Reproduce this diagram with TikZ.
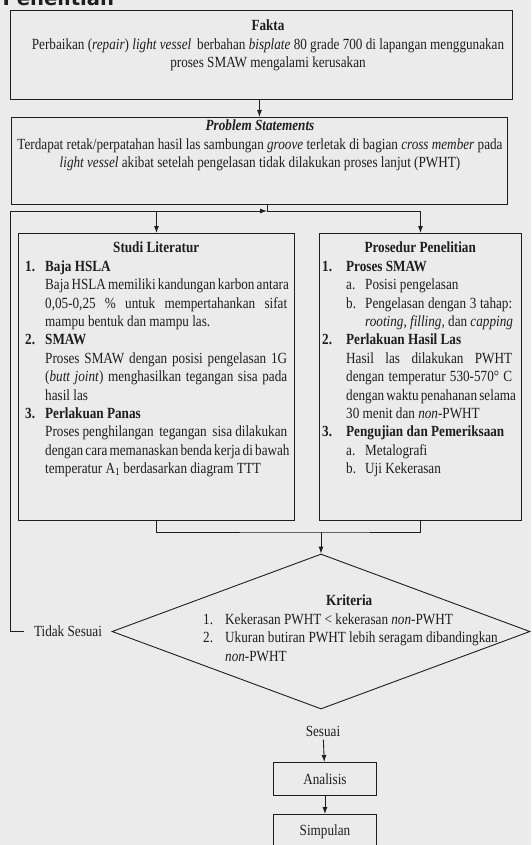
\documentclass[tikz,border=0pt]{standalone}
\usepackage{fontspec}
\setmainfont{Liberation Serif}[FakeStretch=0.85]
\newfontfamily\headfont{DejaVu Sans}
\usetikzlibrary{arrows.meta,positioning,shapes.geometric}
\definecolor{paper}{RGB}{235,235,235}
\definecolor{ink}{RGB}{30,30,30}
\newcommand{\numline}[3][20pt]{\makebox[#1][l]{\textbf{#2}}\textbf{#3}}
\newcommand{\jline}[2]{\makebox[#1][s]{#2}}

\begin{document}
\begin{tikzpicture}[x=1pt,y=-1pt,
    font=\fontsize{15.5}{18.4}\selectfont, color=ink,
    box/.style={draw=ink, line width=0.9pt, inner sep=0pt, anchor=north west},
    txt/.style={inner sep=0pt, align=left, anchor=north west},
    arr/.style={-{Latex[length=7pt,width=5pt]}, draw=ink, line width=0.9pt}]
    \fill[paper] (0,0) rectangle (531,845);
    \useasboundingbox (0,0) rectangle (531,845);

    \node[anchor=base west, font=\headfont\bfseries\fontsize{19.6}{22}\selectfont] (judul) at (-1,5.5) {Penelitian};

    \begin{scope}[every node/.style={box}]
        \node[minimum width=502pt, minimum height=89pt] (fakta) at (10,10) {};
        \node[minimum width=496pt, minimum height=87pt] (problem) at (11,117) {};
        \node[minimum width=276pt, minimum height=287pt] (studi) at (18,233) {};
        \node[minimum width=202pt, minimum height=287pt] (prosedur) at (319,233) {};
        \node[minimum width=103pt, minimum height=33pt] (analisis) at (273,762) {Analisis};
        \node[minimum width=103pt, minimum height=34pt] (simpulan) at (273,814) {Simpulan};
    \end{scope}
    \node[draw=ink, line width=0.9pt, diamond, inner sep=0pt,
        minimum width=418pt, minimum height=155pt] (kriteria) at (321,631.5) {};

    \node[txt, anchor=north, align=center] (faktatext) at (268,20) {\textbf{Fakta}\\
        Perbaikan (\textit{repair}) \textit{light vessel}\, berbahan \textit{bisplate} 80 grade 700 di lapangan menggunakan\\
        proses SMAW mengalami kerusakan};
    \node[txt, anchor=north, align=center] (problemtext) at (260,120) {\textbf{\textit{Problem Statements}}\\
        Terdapat retak/perpatahan hasil las sambungan \textit{groove} terletak di bagian \textit{cross member} pada\\
        \textit{light vessel} akibat setelah pengelasan tidak dilakukan proses lanjut (PWHT)};
    \node[txt] (studitext) at (25,242) {\makebox[262pt][c]{\textbf{Studi Literatur}}\\
        \numline{1.}{Baja HSLA}\\
        \hspace*{20pt}\jline{242pt}{Baja HSLA memiliki kandungan karbon antara}\\
        \hspace*{20pt}\jline{242pt}{0,05-0,25 \% untuk mempertahankan sifat}\\
        \hspace*{20pt}mampu bentuk dan mampu las.\\
        \numline{2.}{SMAW}\\
        \hspace*{20pt}\jline{242pt}{Proses SMAW dengan posisi pengelasan 1G}\\
        \hspace*{20pt}\jline{242pt}{(\textit{butt joint}) menghasilkan tegangan sisa pada}\\
        \hspace*{20pt}hasil las\\
        \numline{3.}{Perlakuan Panas}\\
        \hspace*{20pt}\jline{242pt}{Proses penghilangan\, tegangan\, sisa dilakukan}\\
        \hspace*{20pt}\jline{242pt}{dengan cara memanaskan benda kerja di bawah}\\
        \hspace*{20pt}temperatur A\textsubscript{1} berdasarkan diagram TTT};
    \node[txt] (proseduretext) at (322,242) {\makebox[196pt][c]{\textbf{Prosedur Penelitian}}\\
        \numline[24pt]{1.}{Proses SMAW}\\
        \hspace*{24pt}\makebox[19pt][l]{a.}Posisi pengelasan\\
        \hspace*{24pt}\makebox[19pt][l]{b.}\jline{147pt}{Pengelasan dengan 3 tahap:}\\
        \hspace*{43pt}\textit{rooting, filling,} dan \textit{capping}\\
        \numline[24pt]{2.}{Perlakuan Hasil Las}\\
        \hspace*{24pt}\jline{166pt}{Hasil las dilakukan PWHT}\\
        \hspace*{24pt}\jline{166pt}{dengan temperatur 530-570° C}\\
        \hspace*{24pt}\jline{166pt}{dengan waktu penahanan selama}\\
        \hspace*{24pt}30 menit dan \textit{non}-PWHT\\
        \numline[24pt]{3.}{Pengujian dan Pemeriksaan}\\
        \hspace*{24pt}\makebox[19pt][l]{a.}Metalografi\\
        \hspace*{24pt}\makebox[19pt][l]{b.}Uji Kekerasan};
    \node[txt] (kriteriatext) at (203,595) {\makebox[292pt][c]{\textbf{Kriteria}}\\
        \makebox[22pt][l]{1.}Kekerasan PWHT \textless{} kekerasan \textit{non}-PWHT\\
        \makebox[22pt][l]{2.}Ukuran butiran PWHT lebih seragam dibandingkan\\
        \hspace*{22pt}\textit{non}-PWHT};
    \node[inner xsep=10pt] (tidak) at (68,631) {Tidak Sesuai};
    \node (sesuai) at (323,731) {Sesuai};

    \coordinate (split) at (267,211);
    \coordinate (back) at (10,211);
    \coordinate (merge) at (321,532);
    \draw[arr] (fakta.south -| problem.north) -- (problem.north);
    \draw[arr] (split |- problem.south) -- (split) -| (prosedur.north);
    \draw[arr] (split -| studi.north) -- (studi.north);
    \draw[arr] (tidak.west) -| (back) -- (split);
    \draw[line width=0.9pt] (studi.south) |- (merge) -| (prosedur.south);
    \draw[arr] (merge) -- (kriteria.north);
    \draw[arr] (sesuai) -- (analisis);
    \draw[arr] (analisis) -- (simpulan);
\end{tikzpicture}
\end{document}
